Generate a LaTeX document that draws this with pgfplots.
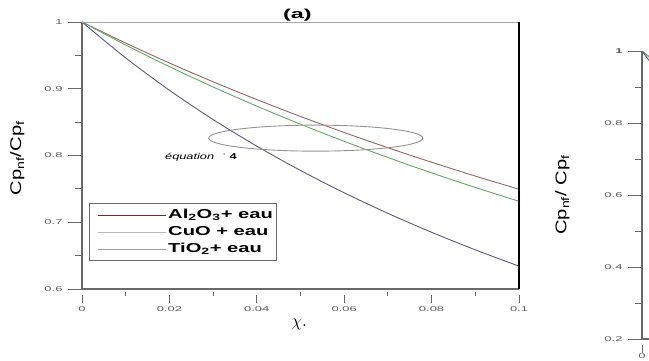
\documentclass[border=0pt]{standalone}
\usepackage{pgfplots}
\pgfplotsset{compat=1.18}
\usepackage{pgfplotstable}
\usepackage{fontspec}
\setmainfont{Liberation Sans}
\newfontfamily\tickfont[FakeStretch=1.85]{Liberation Sans}
\newfontfamily\legfont[FakeStretch=1.55]{Liberation Sans}
\newfontfamily\titfont[FakeStretch=1.8]{Liberation Sans}
\newfontfamily\labfont[FakeStretch=1.3]{Liberation Sans}
\newfontfamily\eqfont[FakeStretch=1.5]{Liberation Sans}
\definecolor{alcol}{RGB}{150,100,100}
\definecolor{ticol}{RGB}{100,170,100}
\definecolor{cucol}{RGB}{90,90,135}
\definecolor{axgray}{RGB}{105,105,105}
\definecolor{lblgray}{RGB}{90,90,90}

\pgfplotstableread{
phi al ti cu
0.00 1.00000 1.00000 1.00000
0.01 0.96842 0.96550 0.94620
0.02 0.93861 0.93311 0.89776
0.03 0.91043 0.90265 0.85389
0.04 0.88376 0.87395 0.81400
0.05 0.85847 0.84686 0.77756
0.06 0.83445 0.82124 0.74413
0.07 0.81163 0.79699 0.71337
0.08 0.78990 0.77399 0.68497
0.09 0.76919 0.75215 0.65866
0.10 0.74944 0.73138 0.63422
}\data

\pgfplotsset{
  common/.style={
    scale only axis, clip=false,
    tick align=outside, tick pos=left,
    major tick length=14pt, minor tick length=7pt,
    major x tick style={dash pattern=on 8pt off 40pt},
    minor x tick style={dash pattern=on 4pt off 40pt},
    tick style={axgray, line width=0.9pt},
    axis line style={draw=none},
    scaled x ticks=false, scaled y ticks=false,
    /pgf/number format/assume math mode=true,
    ticklabel style={font=\tickfont\fontsize{7}{8}\selectfont, text=lblgray},
    yticklabel style={xshift=-2pt},
  }
}

\begin{document}
\begin{tikzpicture}
\useasboundingbox (0,0) rectangle (649pt,361pt);
\begin{axis}[common,
  at={(82pt,72pt)}, anchor=south west,
  width=437pt, height=267pt,
  xmin=0, xmax=0.1, ymin=0.6, ymax=1,
  xtick={0,0.02,0.04,0.06,0.08,0.1},
  xticklabels={0,0.02,0.04,0.06,0.08,0.1},
  minor xtick={0.01,0.03,0.05,0.07,0.09},
  ytick={0.6,0.7,0.8,0.9,1},
  yticklabels={0.6,0.7,0.8,0.9,1},
  minor ytick={0.65,0.75,0.85,0.95},
  xlabel={\fontsize{16}{18}\selectfont$\chi$.},
  xlabel style={at={(rel axis cs:0.497,0)}, anchor=base, yshift=-38pt},
  ylabel={\labfont\fontsize{15.5}{17}\selectfont Cp\textsubscript{nf}/Cp\textsubscript{f}},
  ylabel style={at={(rel axis cs:0,0.49)}, anchor=south, yshift=54pt},
  legend cell align=left,
  legend style={at={(rel axis cs:0.016,0.322)}, anchor=north west,
    draw=axgray, line width=0.9pt, inner xsep=2pt, inner ysep=3pt,
    font=\legfont\bfseries\fontsize{13}{15}\selectfont,
    nodes={text height=10pt, text depth=3pt, inner sep=2pt},
    row sep=0pt},
  legend image code/.code={\path (0pt,0pt); \draw[#1] (6pt,0pt) -- (74pt,0pt);},
]
\addlegendimage{color={rgb,255:red,120;green,40;blue,40}, line width=0.8pt}
\addlegendentry{Al\textsubscript{2}O\textsubscript{3}+ eau}
\addlegendimage{color=gray!55, line width=0.8pt}
\addlegendentry{CuO + eau}
\addlegendimage{color=gray!75, line width=0.8pt}
\addlegendentry{TiO\textsubscript{2}+ eau}

\addplot[alcol, line width=0.9pt, smooth, forget plot] table[x=phi, y=al] {\data};
\addplot[ticol, line width=0.9pt, smooth, forget plot] table[x=phi, y=ti] {\data};
\addplot[cucol, line width=0.9pt, smooth, forget plot] table[x=phi, y=cu] {\data};

\draw[gray!85, line width=0.9pt] (axis cs:0.0535,0.826) ellipse [x radius=0.0245, y radius=0.0195];
\node[anchor=base west, inner sep=0pt, font=\eqfont\fontsize{8.5}{10}\selectfont]
  at (axis cs:0.0190,0.7935) {\textit{équation}\hspace{9pt}{\color{gray}'}\hspace{4pt}\textbf{4}};

\draw[axgray, line width=1.2pt] (rel axis cs:0,0) -- (rel axis cs:1,0);
\draw[axgray, line width=1.2pt] (rel axis cs:0,0) -- (rel axis cs:0,1);
\draw[gray!70, line width=0.8pt] (rel axis cs:0,1) -- (rel axis cs:1,1);
\draw[black, line width=1.5pt] (rel axis cs:1,0) -- (rel axis cs:1,1);
\node[anchor=base, inner sep=0pt, font=\titfont\bfseries\fontsize{13}{15}\selectfont]
  at (rel axis cs:0.493,1) [yshift=3pt] {(a)};
\end{axis}

\begin{axis}[common, clip=true,
  at={(642pt,22pt)}, anchor=south west,
  width=7pt, height=288pt,
  xmin=0, xmax=0.0048, ymin=0.2, ymax=1,
  xtick={0}, xticklabels={0},
  xticklabel style={yshift=3pt},
  ytick={0.2,0.4,0.6,0.8,1},
  yticklabels={0.2,0.4,0.6,0.8,\textbf{1}},
  minor ytick={0.3,0.5,0.7,0.9},
  ylabel={\labfont\fontsize{15.5}{17}\selectfont Cp\textsubscript{nf}/ Cp\textsubscript{f}},
  ylabel style={at={(rel axis cs:0,0.5)}, anchor=south, yshift=69pt},
]
\addplot[alcol, line width=0.9pt, smooth] table[x=phi, y=al] {\data};
\addplot[ticol, line width=0.9pt, smooth] table[x=phi, y=ti] {\data};
\addplot[cucol, line width=0.9pt, smooth] table[x=phi, y=cu] {\data};
\end{axis}
\draw[axgray, line width=1.2pt] (642pt,22pt) -- (642pt,310pt);
\draw[axgray, line width=1.2pt] (642pt,22pt) -- (649pt,22pt);
\end{tikzpicture}
\end{document}
